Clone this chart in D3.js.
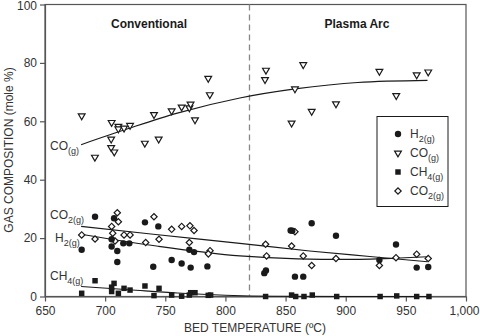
<!DOCTYPE html>
<html><head><meta charset="utf-8">
<script src="https://cdn.jsdelivr.net/npm/d3@7"></script>
<style>body{margin:0;background:#fff}svg{display:block;font-family:"Liberation Sans",Arial,sans-serif}</style>
</head><body><svg id="c" width="480" height="336"></svg>
<script>
const xTicks = [650,700,750,800,850,900,950,1000];
const yTicks = [0,20,40,60,80,100];

const h2 = [[680.5,16.0],[691.6,27.3],[705.4,19.6],[705.4,17.1],[707.4,26.8],[710.1,15.6],[710.1,11.8],[715.1,18.2],[720.1,18.2],[733.1,25.4],[740,10.2],[744.2,24],[755.3,12.5],[763.6,11.3],[770,16],[771.1,9.9],[773.9,15.2],[785,10.3],
  [832.3,8.0],[833.7,8.9],[854.2,22.6],[855.6,22.5],[857.8,6.8],[864.7,6.8],[871.7,25.1],[891.9,20.8],[928,12.5],[941.8,17.8],[959,9.9],[968.6,10.1]];
const co = [[680.5,61.9],[691.5,47.7],[705.4,59.6],[705,53.9],[705,51],[707.6,49.5],[711,58.3],[711,57.4],[715.7,57.7],[720.7,58.6],[733,52.5],[740.6,62.3],[744.5,53.9],[755.3,63.6],[763.6,64.9],[770,64.6],[771,65.9],[774.7,60.5],[785.7,74.7],[787,69.1],
  [833.7,77.5],[832.9,74.3],[864.7,79.4],[857.8,71.1],[855,59.4],[871.7,63.4],[891.9,66],[928,77.1],[942,68.8],[959,75.9],[968.6,76.9]];
const ch4 = [[680.5,1.1],[691.6,5.4],[705.4,1.7],[705.4,3.2],[707.4,4.5],[711,1.1],[715.7,2.8],[720.7,2.2],[733.1,3.6],[740.6,0.3],[744.8,2.8],[755.3,0.5],[763.6,0.1],[770,0.5],[771.1,1.3],[774.7,1.3],[785.7,0.4],[787.7,0.5],
  [833.4,0],[855,0.5],[858.4,0],[865.3,0],[872.2,0.5],[892.5,0],[928.6,0],[942.4,0.2],[959,0],[969.2,0]];
const co2 = [[680.5,21.1],[691.6,19.7],[705.4,24.0],[706.3,21.7],[708.2,19.0],[710.1,28.7],[711,25.6],[715.7,21.1],[720.7,21.1],[733.7,18.5],[740.6,27.3],[744.8,19.6],[755.3,23],[763.6,24],[770.5,24.2],[773.9,22.6],[770,18.5],[787.2,15.7],[785.8,14.6],
  [833.4,17.9],[834.2,13.9],[855,17.3],[857.8,22.2],[864.7,13.9],[871.7,10.6],[891.9,13],[928,10.6],[941.8,13.3],[959,14.5],[968.6,13]];

// trend curves
const coTrend = [[680,52],[720,57.6],[760,62.8],[812,68],[858,71.1],[910,73.3],[968,74]];
const co2Trend = [[680,24],[740,21.3],[812,18.2],[870,15.6],[920,13.7],[968,11.9]];
const h2Trend = [[680,21.3],[744,17.2],[812,13.9],[860,12.9],[900,12.7],[940,13.1],[968,13.6]];
const ch4Trend = [[680,3.4],[720,2.3],[760,1.2],[800,0.45],[840,0.1],[900,0],[968,0]];

const svg = d3.select("#c");
const x = d3.scaleLinear().domain([650,1000]).range([45,466]);
const y = d3.scaleLinear().domain([0,100]).range([296.5,4.5]);
const ink = "#1a1a1a", axc = "#555";

svg.append("rect").attr("x",45).attr("y",4.5).attr("width",421).attr("height",292).attr("fill","none").attr("stroke",axc).attr("stroke-width",1.2);

const xa = svg.append("g").attr("transform","translate(0,296.5)").call(d3.axisBottom(x).tickValues(xTicks).tickFormat(d3.format(",")).tickSize(5).tickSizeOuter(0));
const ya = svg.append("g").attr("transform","translate(45,0)").call(d3.axisLeft(y).tickValues(yTicks).tickSize(5).tickSizeOuter(0));
[xa,ya].forEach(g=>{g.select(".domain").attr("stroke",axc).attr("stroke-width",1.2);g.selectAll("line").attr("stroke",axc).attr("stroke-width",1.2);g.selectAll("text").attr("fill","#333").attr("font-size",12).attr("font-family","Liberation Sans, Arial, sans-serif");});
xa.selectAll("text").attr("dy","0.9em");
xa.selectAll(".tick").filter(d=>d===1000).select("text").attr("text-anchor","end").attr("x",13);
ya.selectAll("text").attr("x",-8);
ya.selectAll(".tick").filter(d=>d===100).select("text").attr("dy","0.45em");

svg.append("text").attr("x",255).attr("y",332).attr("text-anchor","middle").attr("font-size",12).attr("fill","#333").text("BED TEMPERATURE (ºC)");
svg.append("text").attr("transform","translate(13,150) rotate(-90)").attr("text-anchor","middle").attr("font-size",12).attr("fill","#333").text("GAS COMPOSITION (mole %)");

svg.append("line").attr("x1",x(820)).attr("x2",x(820)).attr("y1",4.5).attr("y2",296.5).attr("stroke","#888").attr("stroke-width",1.3).attr("stroke-dasharray","6,4");

svg.append("text").attr("x",149).attr("y",28).attr("text-anchor","middle").attr("font-size",12).attr("font-weight","bold").attr("fill",ink).text("Conventional");
svg.append("text").attr("x",357).attr("y",28).attr("text-anchor","middle").attr("font-size",12).attr("font-weight","bold").attr("fill",ink).text("Plasma Arc");

const line = d3.line().x(d=>x(d[0])).y(d=>y(d[1])).curve(d3.curveMonotoneX);
[coTrend,co2Trend,h2Trend,ch4Trend].forEach(t=>svg.append("path").attr("d",line(t)).attr("fill","none").attr("stroke",ink).attr("stroke-width",1.1));

const tri = d3.symbol().type(d3.symbolTriangle).size(20);
const dia = d3.symbol().type(d3.symbolSquare).size(20);
const sq = d3.symbol().type(d3.symbolSquare).size(30);
function marker(g, kind, px, py){
  if(kind==="h2") g.append("circle").attr("cx",px).attr("cy",py).attr("r",3.2).attr("fill",ink);
  if(kind==="co") g.append("path").attr("d",tri()).attr("transform",`translate(${px},${py}) rotate(180)`).attr("fill","#fff").attr("stroke",ink).attr("stroke-width",1.2);
  if(kind==="ch4") g.append("path").attr("d",sq()).attr("transform",`translate(${px},${py})`).attr("fill",ink);
  if(kind==="co2") g.append("path").attr("d",dia()).attr("transform",`translate(${px},${py}) rotate(45)`).attr("fill","#fff").attr("stroke",ink).attr("stroke-width",1.2);
}
function drawPts(data, kind){
  const g = svg.append("g");
  data.forEach(d=>marker(g, kind, x(d[0]), y(d[1])));
}
drawPts(co,"co"); drawPts(co2,"co2"); drawPts(h2,"h2"); drawPts(ch4,"ch4");

function chem(g, base, sub, xx, yy, fs){
  const t = g.append("text").attr("x",xx).attr("y",yy).attr("font-size",fs).attr("fill","#333");
  t.append("tspan").text(base);
  t.append("tspan").attr("dy",fs*0.3).attr("font-size",fs*0.75).text(sub);
  return t;
}
const lab = svg.append("g");
chem(lab,"CO","(g)",50,150,12);
chem(lab,"CO","2(g)",50,219,12);
chem(lab,"H","2(g)",55,242,12);
chem(lab,"CH","4(g)",50,280,12);

const lg = svg.append("g");
lg.append("rect").attr("x",377).attr("y",116.5).attr("width",71).attr("height",90).attr("fill","#fff").attr("stroke",ink).attr("stroke-width",1);
const legendItems = [["h2","H","2(g)"],["co","CO","(g)"],["ch4","CH","4(g)"],["co2","CO","2(g)"]];
legendItems.forEach((it,i)=>{
  const cy = 134 + i*19, cx = 398;
  marker(lg, it[0], cx, cy);
  chem(lg,it[1],it[2],410,cy+4,12);
});
</script></body></html>
